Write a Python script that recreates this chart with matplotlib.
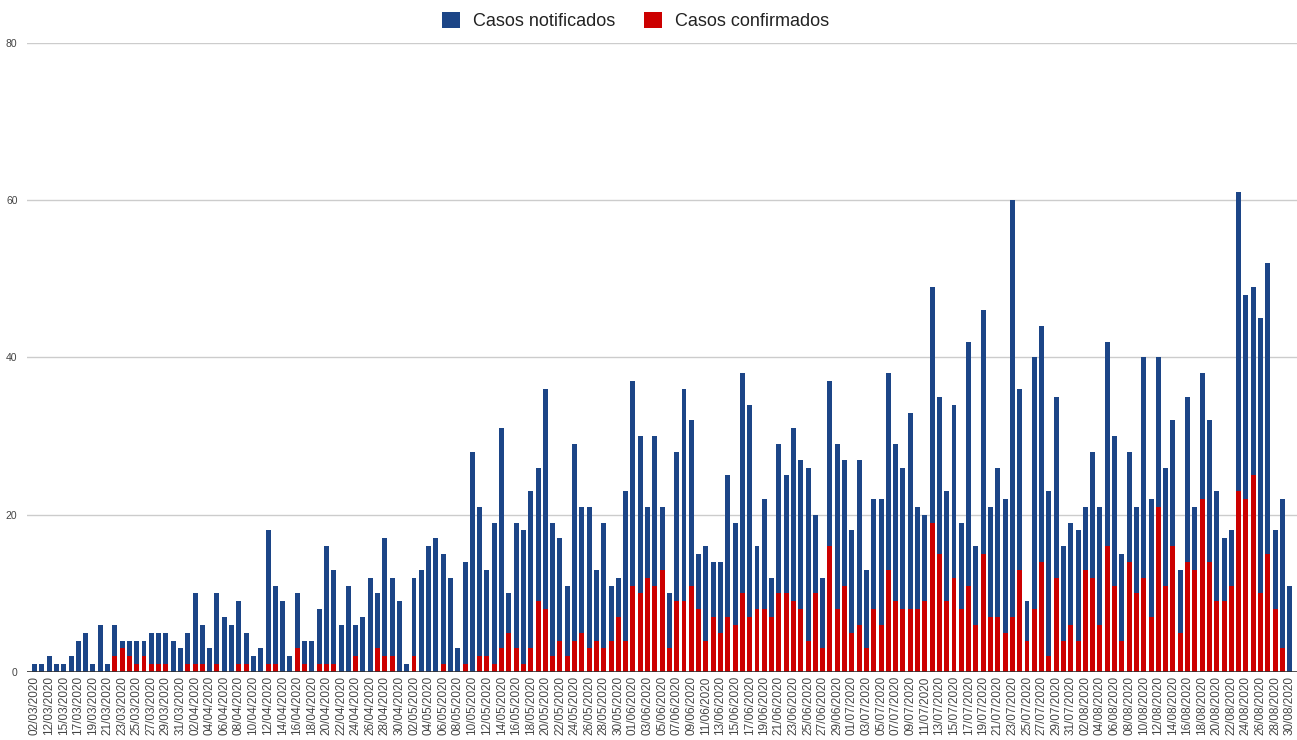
import numpy as np
import pandas as pd
import matplotlib.pyplot as plt

plt.rcParams['font.family'] = ['Liberation Sans', 'DejaVu Sans']

# Fechas (las primeras no son consecutivas)
fechas = ["02/03/2020", "11/03/2020", "12/03/2020", "14/03/2020"] + \
    list(pd.date_range("2020-03-15", "2020-08-30").strftime("%d/%m/%Y"))

notificados = [
    1, 1, 2, 1, 1, 2, 4, 5, 1, 6, 1, 6, 4, 4, 4, 4, 5, 5, 5, 4,
    3, 5, 10, 6, 3, 10, 7, 6, 9, 5, 2, 3, 18, 11, 9, 2, 10, 4, 4, 8,
    16, 13, 6, 11, 6, 7, 12, 10, 17, 12, 9, 1, 12, 13, 16, 17, 15, 12, 3, 14,
    28, 21, 13, 19, 31, 10, 19, 18, 23, 26, 36, 19, 17, 11, 29, 21, 21, 13, 19, 11,
    12, 23, 37, 30, 21, 30, 21, 10, 28, 36, 32, 15, 16, 14, 14, 25, 19, 38, 34, 16,
    22, 12, 29, 25, 31, 27, 26, 20, 12, 37, 29, 27, 18, 27, 13, 22, 22, 38, 29, 26,
    33, 21, 20, 49, 35, 23, 34, 19, 42, 16, 46, 21, 26, 22, 60, 36, 9, 40, 44, 23,
    35, 16, 19, 18, 21, 28, 21, 42, 30, 15, 28, 21, 40, 22, 40, 26, 32, 13, 35, 21,
    38, 32, 23, 17, 18, 61, 48, 49, 45, 52, 18, 22, 11,
]

confirmados = [
    0, 0, 0, 0, 0, 0, 0, 0, 0, 0, 0, 2, 3, 2, 1, 2, 1, 1, 1, 0,
    0, 1, 1, 1, 0, 1, 0, 0, 1, 1, 0, 0, 1, 1, 0, 0, 3, 1, 0, 1,
    1, 1, 0, 0, 2, 0, 0, 3, 2, 2, 0, 0, 2, 0, 0, 0, 1, 0, 0, 1,
    0, 2, 2, 1, 3, 5, 3, 1, 3, 9, 8, 2, 4, 2, 4, 5, 3, 4, 3, 4,
    7, 4, 11, 10, 12, 11, 13, 3, 9, 9, 11, 8, 4, 7, 5, 7, 6, 10, 7, 8,
    8, 7, 10, 10, 9, 8, 4, 10, 3, 16, 8, 11, 5, 6, 3, 8, 6, 13, 9, 8,
    8, 8, 9, 19, 15, 9, 12, 8, 11, 6, 15, 7, 7, 5, 7, 13, 4, 8, 14, 2,
    12, 4, 6, 4, 13, 12, 6, 16, 11, 4, 14, 10, 12, 7, 21, 11, 16, 5, 14, 13,
    22, 14, 9, 9, 11, 23, 22, 25, 10, 15, 8, 3, 0,
]

azul = "#1c4587"
rojo = "#cc0000"

fig = plt.figure(figsize=(12.97, 7.40), dpi=100)
ax = fig.add_axes([0.021, 0.0919, 0.979, 0.85])

x = np.arange(len(fechas))
ax.bar(x, notificados, width=0.68, color=azul, label="Casos notificados", zorder=2)
ax.bar(x, confirmados, width=0.68, color=rojo, label="Casos confirmados", zorder=3)

ax.set_ylim(0, 80)
ax.set_xlim(-1.0, 173.0)   # algo de margen a la derecha para la ultima etiqueta
ax.set_yticks([0, 20, 40, 60, 80])
ax.yaxis.grid(True, color="#cccccc", lw=1, zorder=0)
ax.axhline(0, color="#333333", lw=1.2, zorder=4)

ax.set_xticks(x[::2])
ax.set_xticklabels(fechas[::2], rotation=90, fontsize=8.5, color="#444444")
ax.tick_params(axis="x", length=0, pad=3)
ax.tick_params(axis="y", length=0, pad=7, labelsize=7.5, labelcolor="#444444")

for s in ax.spines.values():
    s.set_visible(False)

fig.legend(loc="center", bbox_to_anchor=(0.49, 0.9716), ncol=2, frameon=False,
           fontsize=13, handlelength=1.0, handleheight=1.0, columnspacing=1.6,
           handletextpad=0.7, labelcolor="#222222")

fig.savefig("out.png", dpi=100)
